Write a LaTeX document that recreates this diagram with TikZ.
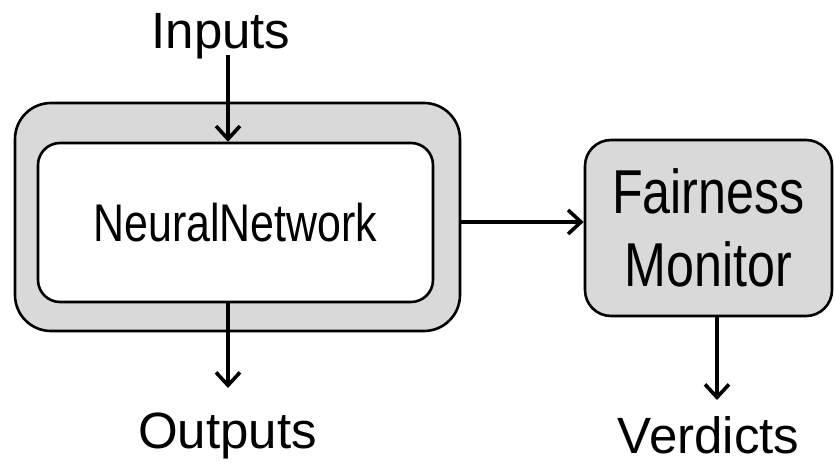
\documentclass[tikz,border=0pt]{standalone}
\usepackage{fontspec}
\setmainfont{Liberation Sans}
\newfontfamily\narrowsf[FakeStretch=0.81]{Liberation Sans}
\usetikzlibrary{arrows.meta}
\definecolor{boxgray}{HTML}{D9D9D9}
\tikzset{
  panel/.style={draw=black, line width=2.6pt, rounded corners=#1, inner sep=0pt},
  label/.style={font=\fontsize{51}{61}\selectfont, inner sep=0pt, anchor=base},
  flow/.style={line width=3.6pt, -{Straight Barb[length=13pt, width=24pt, line width=3.6pt]}}
}
\begin{document}
\begin{tikzpicture}[x=1pt, y=-1pt]
  \useasboundingbox (0,0) rectangle (835,465);
  % wrapper around the network
  \node[panel=36pt, fill=boxgray, minimum width=445pt, minimum height=228pt]
    (outer) at (237.5,217) {};
  \node[panel=22pt, fill=white, minimum width=395pt, minimum height=159pt,
        font=\narrowsf\fontsize{53}{60}\selectfont]
    (inner) at (235.5,222.5) {NeuralNetwork};
  % monitor block
  \node[panel=26pt, fill=boxgray, minimum width=247pt, minimum height=176pt,
        align=center, font=\narrowsf\fontsize{62}{73}\selectfont]
    (monitor) at (708.5,228) {Fairness\\Monitor};
  % labels
  \node[label] (inputs)   at (221,49)    {Inputs};
  \node[label] (outputs)  at (227.5,448) {Outputs};
  \node[label] (verdicts) at (708.5,453) {Verdicts};
  % arrow ends
  \coordinate (inStart) at (228,55);
  \coordinate (outEnd) at (228,388);
  \coordinate (verEnd) at (717,400);
  \coordinate (sideY) at (0,222);
  % connectors
  \draw[flow] (inStart) -- (inStart |- inner.north);
  \draw[flow] (outEnd |- inner.south) -- (outEnd);
  \draw[flow] (outer.east |- sideY) -- (monitor.west |- sideY);
  \draw[flow] (verEnd |- monitor.south) -- (verEnd);
\end{tikzpicture}
\end{document}
